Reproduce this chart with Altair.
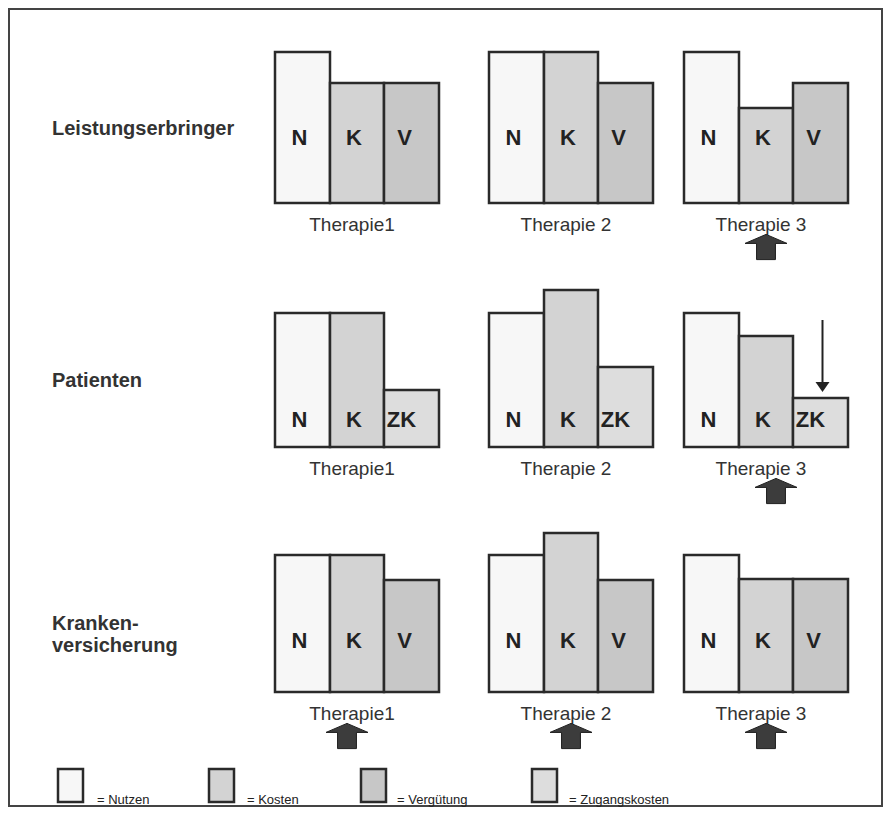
import altair as alt
import pandas as pd

# ---------------- data ----------------
actors = ["Leistungserbringer", "Patienten", "Kranken-\nversicherung"]
therapies = ["Therapie1", "Therapie 2", "Therapie 3"]
bar_codes = [["N", "K", "V"], ["N", "K", "ZK"], ["N", "K", "V"]]
heights_leistungserbringer = [[151, 120, 120], [151, 151, 120], [151, 95, 120]]
heights_patienten = [[134, 134, 57], [134, 157, 80], [134, 111, 49]]
heights_krankenversicherung = [[137, 137, 112], [137, 159, 112], [137, 113, 113]]
up_arrows = [(0, 2), (1, 2), (2, 0), (2, 1), (2, 2)]   # (actor, therapy)
down_arrow = (1, 2, 2)                                  # (actor, therapy, bar)
legend_codes = ["N", "K", "V", "ZK"]
legend_texts = ["= Nutzen", "= Kosten", "= Vergütung", "= Zugangskosten"]

# ---------------- layout / style ----------------
W, H, ORIGIN = 875, 800, 8
FONT = "Liberation Sans, Arial, Helvetica, sans-serif"
fill_colors = ["#f7f7f7", "#d3d3d3", "#c7c7c7", "#dddddd"]
row_base = [203, 447, 692]
group_left = [275, 489, 684]
bar_edges = [0, 55, 109, 164]
letter_rise = [58, 20, 44]
letter_dx = {"N": -3, "K": -3, "V": -7, "ZK": -10}
row_label_x = 52
row_label_baseline = [135, 387, 630]
row_label_lh = 22
therapy_label_drop = 28
therapy_label_dx = -5
arrow_drop = 44
arrow_dx = {(1, 2): 10, (2, 0): -10}
legend_box_x = [58, 209, 361, 532]
legend_box_w = 25
legend_box_y = (769, 802)
legend_text_x = [97, 247, 397, 569]
legend_text_y = 804
border = (ORIGIN + 1, ORIGIN + W - 1, ORIGIN + 1, ORIGIN + H - 2)

heights = [heights_leistungserbringer, heights_patienten, heights_krankenversicherung]

bar_rows = []
for a, actor in enumerate(actors):
    for t, ther in enumerate(therapies):
        for b, code in enumerate(bar_codes[a]):
            left = group_left[t] + bar_edges[b]
            right = group_left[t] + bar_edges[b + 1]
            h = heights[a][t][b]
            bar_rows.append(dict(actor=actor, therapy=ther, code=code, value=h,
                                 x=left, x2=right, y=row_base[a] - h, y2=row_base[a],
                                 lx=(left + right) / 2 + letter_dx[code],
                                 ly=row_base[a] - letter_rise[a]))
bars = pd.DataFrame(bar_rows)

ther_rows = []
for a in range(len(actors)):
    for t, ther in enumerate(therapies):
        ther_rows.append(dict(label=ther,
                              x=group_left[t] + bar_edges[-1] / 2 + therapy_label_dx,
                              y=row_base[a] + therapy_label_drop))
ther_df = pd.DataFrame(ther_rows)

actor_rows = []
for a, actor in enumerate(actors):
    for i, line in enumerate(actor.split("\n")):
        actor_rows.append(dict(label=line, x=row_label_x,
                               y=row_label_baseline[a] + i * row_label_lh))
actor_df = pd.DataFrame(actor_rows)

arrow_df = pd.DataFrame([
    dict(x=group_left[t] + bar_edges[-1] / 2 + arrow_dx.get((a, t), 0),
         y=row_base[a] + arrow_drop)
    for a, t in up_arrows
])

da, dt, db = down_arrow
dbar = bars[(bars.actor == actors[da]) & (bars.therapy == therapies[dt])].iloc[db]
dcx = (dbar.x + dbar.x2) / 2 + 2
down_df = pd.DataFrame([dict(x=dcx, y=dbar.y - 78, y2=dbar.y - 14, hy=dbar.y - 11)])

legend_df = pd.DataFrame([
    dict(code=c, text=txt, x=bx, x2=bx + legend_box_w, y=legend_box_y[0], y2=legend_box_y[1],
         tx=tx, ty=legend_text_y)
    for c, txt, bx, tx in zip(legend_codes, legend_texts, legend_box_x, legend_text_x)
])

border_df = pd.DataFrame([dict(x=border[0], x2=border[1], y=border[2], y2=border[3])])

# ---------------- scales ----------------
xs = alt.Scale(domain=[ORIGIN, ORIGIN + W], nice=False, zero=False)
ys = alt.Scale(domain=[ORIGIN, ORIGIN + H], nice=False, zero=False, reverse=True)
fs = alt.Scale(domain=legend_codes, range=fill_colors)


def X(f):
    return alt.X(f, type="quantitative", scale=xs, axis=None)


def Y(f):
    return alt.Y(f, type="quantitative", scale=ys, axis=None)


border_layer = alt.Chart(border_df).mark_rect(
    filled=False, stroke="#444444", strokeWidth=2
).encode(x=X("x"), x2="x2", y=Y("y"), y2="y2")

bar_layer = alt.Chart(bars).mark_rect(stroke="#2a2a2a", strokeWidth=2.5).encode(
    x=X("x"), x2="x2", y=Y("y"), y2="y2",
    fill=alt.Fill("code:N", scale=fs, legend=None),
)

letter_layer = alt.Chart(bars).mark_text(
    font=FONT, fontSize=22, fontWeight="bold", color="#222222",
    align="center", baseline="alphabetic"
).encode(x=X("lx"), y=Y("ly"), text="code:N")

ther_layer = alt.Chart(ther_df).mark_text(
    font=FONT, fontSize=19, color="#333333", align="center", baseline="alphabetic"
).encode(x=X("x"), y=Y("y"), text="label:N")

actor_layer = alt.Chart(actor_df).mark_text(
    font=FONT, fontSize=20, fontWeight="bold", color="#333333",
    align="left", baseline="alphabetic"
).encode(x=X("x"), y=Y("y"), text="label:N")

arrow_path = "M0,-0.6L1,-0.17L0.45,-0.17L0.45,0.6L-0.45,0.6L-0.45,-0.17L-1,-0.17Z"
arrow_layer = alt.Chart(arrow_df).mark_point(
    shape=arrow_path, size=1764, filled=True, fill="#3c3c3c",
    stroke="#1e1e1e", strokeWidth=1, opacity=1
).encode(x=X("x"), y=Y("y"))

down_rule = alt.Chart(down_df).mark_rule(color="#222222", strokeWidth=2).encode(
    x=X("x"), y=Y("y"), y2="y2"
)
down_head = alt.Chart(down_df).mark_point(
    shape="M-1,-0.7L1,-0.7L0,0.7Z", size=196, filled=True, fill="#222222", opacity=1
).encode(x=X("x"), y=Y("hy"))

legend_boxes = alt.Chart(legend_df).mark_rect(stroke="#2a2a2a", strokeWidth=2.5).encode(
    x=X("x"), x2="x2", y=Y("y"), y2="y2",
    fill=alt.Fill("code:N", scale=fs, legend=None),
)
legend_labels = alt.Chart(legend_df).mark_text(
    font=FONT, fontSize=13, color="#222222", align="left", baseline="alphabetic"
).encode(x=X("tx"), y=Y("ty"), text="text:N")

chart = alt.layer(
    border_layer, bar_layer, letter_layer, ther_layer, actor_layer,
    arrow_layer, down_rule, down_head, legend_boxes, legend_labels
).properties(
    width=W, height=H, padding=0, autosize=alt.AutoSizeParams(type="none"),
    background="#ffffff"
).configure_view(stroke=None)

chart.save("out.html", embed_options={"renderer": "svg", "actions": False})
